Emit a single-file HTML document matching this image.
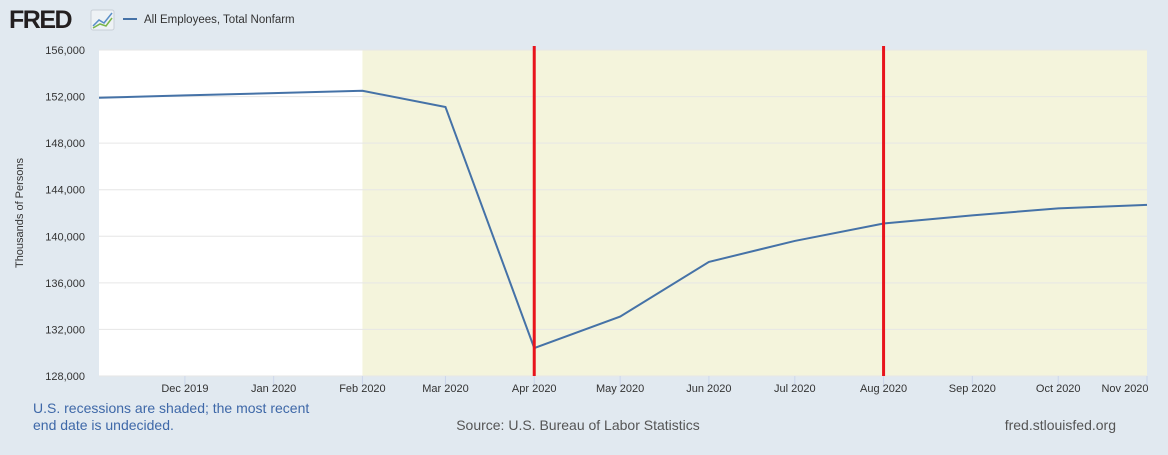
<!DOCTYPE html>
<html><head><meta charset="utf-8"><style>
body{margin:0;width:1168px;height:450px;background:#e1e9f0;font-family:"Liberation Sans",Arial,sans-serif;overflow:hidden}
svg text{font-family:"Liberation Sans",Arial,sans-serif}
</style></head><body>
<svg id="c" width="1168" height="450">
<g>
<text x="9" y="28" font-size="25" font-weight="bold" fill="#231f20" letter-spacing="-1.5">FRED</text>
<rect x="91" y="10" width="23" height="20" rx="2" fill="#eef2f5" stroke="#c8cfd6"/>
<polyline points="93,26 99,20 104,23 112,13" fill="none" stroke="#5a8ec7" stroke-width="1.5"/>
<polyline points="93,28 100,24 106,26 112,18" fill="none" stroke="#7ab54a" stroke-width="1.5"/>
</g>
<g>
<line x1="123" y1="19" x2="137" y2="19" stroke="#4572a7" stroke-width="2"/>
<text x="144" y="23" font-size="11.5" fill="#333">All Employees, Total Nonfarm</text>
</g>
<g id="plot"></g>
<text transform="translate(23,213) rotate(-90)" text-anchor="middle" font-size="11" fill="#333">Thousands of Persons</text>
<text x="33" y="413" font-size="14" fill="#3e68a8">U.S. recessions are shaded; the most recent</text>
<text x="33" y="430" font-size="14" fill="#3e68a8">end date is undecided.</text>
<text x="578" y="430" text-anchor="middle" font-size="14" fill="#555">Source: U.S. Bureau of Labor Statistics</text>
<text x="1116" y="430" text-anchor="end" font-size="14" fill="#555">fred.stlouisfed.org</text>
</svg>
<script>
const dates=["2019-11-01","2019-12-01","2020-01-01","2020-02-01","2020-03-01","2020-04-01","2020-05-01","2020-06-01","2020-07-01","2020-08-01","2020-09-01","2020-10-01","2020-11-01"];
const values=[151900,152100,152300,152500,151100,130400,133100,137800,139600,141100,141800,142400,142700];
const yTicks=[128000,132000,136000,140000,144000,148000,152000,156000];
const xTickLabels=["Dec 2019","Jan 2020","Feb 2020","Mar 2020","Apr 2020","May 2020","Jun 2020","Jul 2020","Aug 2020","Sep 2020","Oct 2020","Nov 2020"];
const xTickDates=["2019-12-01","2020-01-01","2020-02-01","2020-03-01","2020-04-01","2020-05-01","2020-06-01","2020-07-01","2020-08-01","2020-09-01","2020-10-01","2020-11-01"];
const recession=["2020-02-01","2020-11-01"];
const markers=["2020-04-01","2020-08-01"];
const L=99,R=1147,T=50,B=376;
const t0=Date.parse("2019-11-01"),t1=Date.parse("2020-11-01");
const x=d=>L+(Date.parse(d)-t0)/(t1-t0)*(R-L);
const y=v=>B-(v-128000)/(156000-128000)*(B-T);
const NS="http://www.w3.org/2000/svg",g=document.getElementById('plot');
function mk(tag,a){const el=document.createElementNS(NS,tag);for(const k in a)el.setAttribute(k,a[k]);g.appendChild(el);return el;}
let e=mk('rect',{x:L,y:T,width:R-L,height:B-T,fill:'#fff'});


e=mk('rect',{x:x(recession[0]),y:T,width:x(recession[1])-x(recession[0]),height:B-T,fill:'#f4f4dc'});


yTicks.forEach(v=>{
 e=mk('line',{x1:L,x2:R,y1:y(v),y2:y(v),stroke:'#e6e6e6'});
 
 
 e=mk('text',{x:L-14,y:y(v)+4,'text-anchor':'end','font-size':11,fill:'#333'});
 e.textContent=v.toLocaleString('en-US');
 
 
});
xTickDates.forEach((d,i)=>{
 e=mk('line',{x1:x(d),x2:x(d),y1:B,y2:B+10,stroke:'#ccd6eb'});
 
 
 e=mk('text',{x:Math.min(x(d),R-22),y:B+16,'text-anchor':'middle','font-size':11,fill:'#333'});
 e.textContent=xTickLabels[i];
 
 
});
e=mk('polyline',{points:dates.map((d,i)=>x(d)+','+y(values[i])).join(' '),fill:'none',stroke:'#4572a7','stroke-width':2});


markers.forEach(d=>{
 e=mk('line',{x1:x(d),x2:x(d),y1:46,y2:B,stroke:'#e8141c','stroke-width':3});
 
 
});
</script>
</body></html>
